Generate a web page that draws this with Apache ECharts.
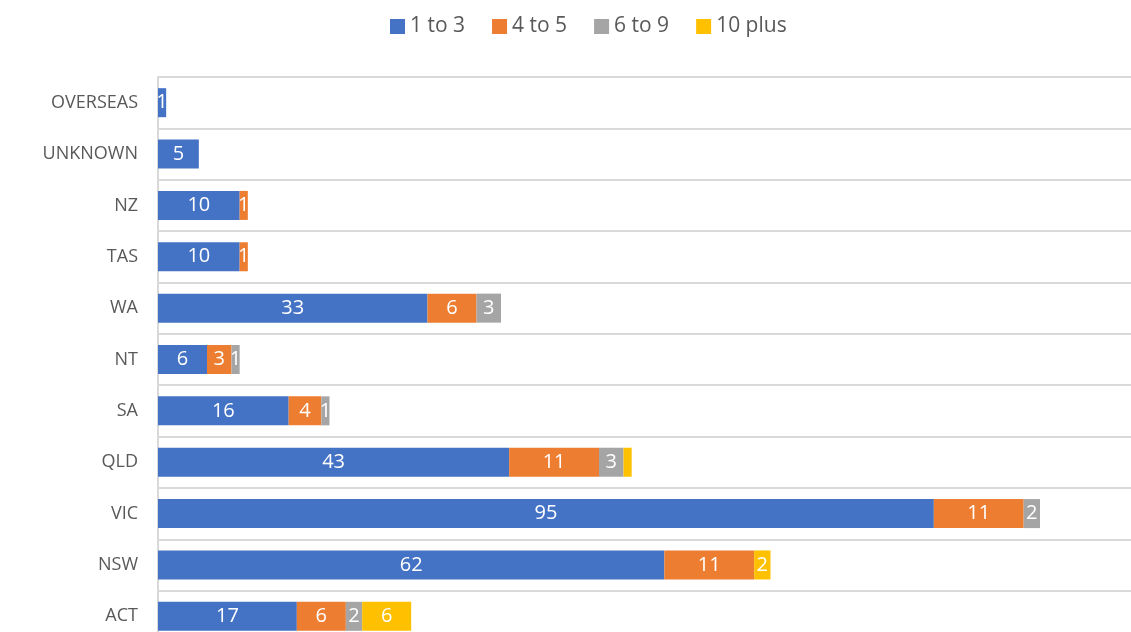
<!DOCTYPE html>
<html>
<head>
<meta charset="utf-8">
<script src="https://cdn.jsdelivr.net/npm/echarts@6/dist/echarts.min.js"></script>
<style>html,body{margin:0;padding:0;background:#fff;}#c{width:1131px;height:632px;}</style>
</head>
<body>
<div id="c"></div>
<script>
const categories = ['ACT', 'NSW', 'VIC', 'QLD', 'SA', 'NT', 'WA', 'TAS', 'NZ', 'UNKNOWN', 'OVERSEAS'];
const seriesNames = ['1 to 3', '4 to 5', '6 to 9', '10 plus'];
const s1to3   = [17, 62, 95, 43, 16, 6, 33, 10, 10, 5, 1];
const s4to5   = [6, 11, 11, 11, 4, 3, 6, 1, 1, null, null];
const s6to9   = [2, null, 2, 3, 1, 1, 3, null, null, null, null];
const s10plus = [6, 2, null, 1, null, null, null, null, null, null, null];
const colors = ['#4472C4', '#ED7D31', '#A5A5A5', '#FFC000'];

const FONT = '"Open Sans", "Noto Sans", sans-serif';
const chart = echarts.init(document.getElementById('c'));
const allData = [s1to3, s4to5, s6to9, s10plus];
const series = allData.map((arr, i) => ({
  name: seriesNames[i],
  type: 'bar',
  stack: 'total',
  barWidth: 29,
  itemStyle: { color: colors[i] },
  label: {
    show: true,
    position: 'inside',
    color: '#fff',
    fontSize: 20,
    fontFamily: FONT,
    formatter: p => (p.value ? String(p.value) : '')
  },
  data: arr.map((v, j) => (i === 3 && categories[j] === 'QLD') ? { value: v, label: { show: false } } : v)
}));

chart.setOption({
  animation: false,
  textStyle: { fontFamily: FONT },
  legend: {
    top: 11,
    left: 385,
    itemWidth: 15,
    itemHeight: 15,
    itemGap: 27,
    icon: 'rect',
    textStyle: { fontSize: 21, color: '#595959', fontFamily: FONT },
    data: seriesNames
  },
  grid: { left: 158, top: 77, width: 980, height: 565, outerBoundsMode: 'none', containLabel: false },
  xAxis: {
    type: 'value',
    min: 0,
    max: 120,
    axisLabel: { show: false },
    axisLine: { show: false },
    axisTick: { show: false },
    splitLine: { show: false }
  },
  yAxis: {
    type: 'category',
    data: categories,
    axisTick: { show: false },
    axisLine: { show: true, lineStyle: { color: '#d9d9d9', width: 2 } },
    splitLine: { show: true, lineStyle: { color: '#d9d9d9', width: 2 } },
    axisLabel: { color: '#595959', fontSize: 18, margin: 20, fontFamily: FONT }
  },
  series: series
});
</script>
</body>
</html>
